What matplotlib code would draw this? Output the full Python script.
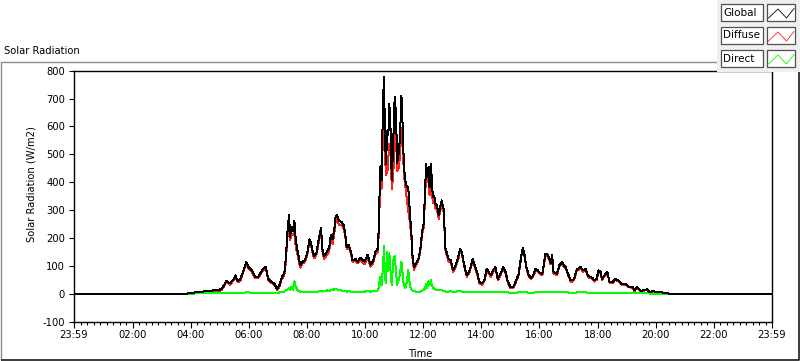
import matplotlib
matplotlib.use("Agg")
import matplotlib.pyplot as plt
from matplotlib.patches import Rectangle
from matplotlib.ticker import FixedLocator

# ---------------- data (minutes since 00:00, W/m2) ----------------
time_min = [-1, 230, 237, 245, 255, 265, 275, 285, 295, 300, 304, 314, 321, 328, 332, 337, 342, 349,
            355, 359, 366, 373, 380, 387, 390, 395, 400, 407, 412, 418, 423, 428, 433, 436, 440, 443,
            445, 448, 451, 454, 457, 461, 466, 471, 475, 480, 485, 488, 492, 495, 500, 504, 509, 512,
            515, 521, 526, 529, 533, 537, 539, 542, 546, 551, 556, 559, 562, 566, 571, 574, 580, 585,
            590, 595, 599, 605, 611, 616, 621, 626, 628, 631, 632, 634, 637, 639, 641, 643, 646, 648,
            650, 653, 655, 658, 661, 664, 666, 669, 672, 675, 678, 680, 683, 686, 689, 693, 696, 698,
            701, 705, 710, 714, 718, 721, 723, 726, 728, 731, 733, 736, 738, 740, 743, 745, 748, 752,
            755, 758, 762, 766, 772, 777, 782, 788, 793, 796, 800, 804, 810, 816, 822, 827, 832, 836,
            841, 846, 851, 855, 860, 864, 869, 874, 879, 885, 890, 894, 900, 906, 912, 917, 920, 924,
            926, 929, 933, 938, 943, 947, 952, 956, 961, 966, 968, 972, 976, 980, 983, 986, 989, 996,
            1001, 1007, 1010, 1014, 1019, 1024, 1029, 1032, 1037, 1045, 1050, 1055, 1060, 1064, 1069,
            1073, 1078, 1082, 1086, 1089, 1094, 1100, 1105, 1111, 1117, 1123, 1130, 1137, 1144, 1153,
            1156, 1162, 1169, 1176, 1182, 1187, 1194, 1203, 1213, 1224, 1230, 1439]

global_wm2 = [0, 0, 3, 4, 6, 8, 10, 12, 13, 15, 18, 46, 37, 51, 66, 46, 50, 84,
              114, 96, 84, 60, 62, 84, 90, 96, 54, 42, 38, 18, 30, 60, 72, 120, 228, 284,
              204, 240, 225, 263, 190, 150, 102, 115, 120, 140, 195, 185, 150, 135, 150, 192, 235, 160,
              135, 150, 165, 210, 195, 240, 275, 284, 262, 258, 245, 215, 168, 175, 150, 120, 125, 115,
              130, 120, 115, 140, 105, 115, 150, 162, 228, 443, 460, 407, 694, 777, 562, 467, 586, 570,
              682, 570, 407, 540, 705, 640, 470, 500, 560, 710, 580, 460, 407, 383, 383, 275, 204, 132,
              96, 110, 126, 160, 228, 252, 335, 467, 420, 455, 383, 467, 395, 347, 350, 323, 318, 281,
              310, 335, 305, 162, 126, 120, 84, 108, 138, 162, 150, 108, 66, 85, 126, 100, 72, 42,
              38, 48, 90, 78, 66, 84, 96, 54, 70, 96, 78, 48, 24, 25, 48, 72, 108, 156,
              165, 140, 96, 66, 58, 66, 90, 85, 75, 72, 96, 144, 144, 128, 110, 140, 78, 72,
              102, 114, 102, 96, 72, 48, 48, 58, 87, 96, 84, 90, 66, 60, 58,
              48, 54, 84, 78, 54, 66, 78, 42, 42, 54, 48, 34, 36, 26, 24,
              12, 24, 10, 14, 16, 6, 10, 6, 5, 2, 0, 0]

diffuse_wm2 = [0, 0, 3, 3, 4, 5, 7, 8, 9, 11, 14, 42, 33, 47, 62, 42, 46, 80,
               109, 91, 80, 56, 58, 80, 86, 92, 50, 38, 35, 15, 25, 54, 64, 108, 213, 264,
               192, 215, 210, 218, 165, 138, 94, 109, 114, 133, 187, 178, 144, 127, 143, 184, 225, 152,
               126, 138, 155, 196, 179, 225, 257, 268, 248, 246, 235, 205, 160, 166, 142, 114, 118, 109,
               122, 114, 107, 130, 97, 106, 140, 150, 208, 383, 415, 377, 594, 605, 502, 427, 436, 490,
               537, 500, 377, 420, 570, 560, 440, 450, 490, 595, 520, 430, 387, 343, 298, 250, 189, 120,
               86, 102, 120, 152, 216, 238, 317, 432, 400, 410, 353, 419, 365, 325, 332, 308, 304, 269,
               298, 321, 295, 154, 118, 111, 77, 100, 129, 152, 142, 102, 60, 79, 119, 94, 66, 37,
               33, 43, 84, 73, 61, 79, 90, 49, 65, 91, 73, 43, 20, 21, 44, 67, 103, 151,
               160, 135, 91, 62, 54, 62, 85, 80, 70, 66, 89, 136, 137, 122, 105, 135, 73, 67,
               97, 109, 97, 91, 67, 44, 44, 54, 82, 91, 79, 85, 62, 56, 54,
               44, 50, 80, 74, 50, 62, 75, 39, 39, 51, 45, 31, 33, 23, 22,
               10, 22, 8, 12, 14, 5, 9, 5, 4, 2, 0, 0]

direct_wm2 = [0, 0, 0, 1, 2, 3, 3, 4, 4, 4, 4, 4, 4, 4, 4, 4, 4, 4,
              5, 5, 4, 4, 4, 4, 4, 4, 4, 4, 3, 3, 5, 6, 8, 12, 15, 20,
              12, 25, 15, 45, 25, 12, 8, 6, 6, 7, 8, 7, 6, 8, 7, 8, 10, 8,
              9, 12, 10, 14, 16, 15, 18, 16, 14, 12, 10, 10, 8, 9, 8, 6, 7, 6,
              8, 6, 8, 10, 8, 9, 10, 12, 20, 60, 45, 30, 100, 172, 60, 40, 150, 80,
              145, 70, 30, 120, 135, 80, 30, 50, 70, 115, 60, 30, 20, 40, 85, 25, 15, 12,
              10, 8, 6, 8, 12, 14, 18, 35, 20, 45, 30, 48, 30, 22, 18, 15, 14, 12,
              12, 14, 10, 8, 8, 9, 7, 8, 9, 10, 8, 6, 6, 6, 7, 6, 6, 5,
              5, 5, 6, 5, 5, 5, 6, 5, 5, 5, 5, 5, 4, 4, 4, 5, 5, 5,
              5, 5, 5, 4, 4, 4, 5, 5, 5, 6, 7, 8, 7, 6, 5, 5, 5, 5,
              5, 5, 5, 5, 5, 4, 4, 4, 5, 5, 5, 5, 4, 4, 4,
              4, 4, 4, 4, 4, 4, 3, 3, 3, 3, 3, 3, 3, 3, 2,
              2, 2, 2, 2, 2, 1, 1, 1, 1, 0, 0, 0]

series_names = ["Global", "Diffuse", "Direct"]
series_colors = ["#000000", "#ff2020", "#00ff00"]

xtick_pos = [-1, 120, 240, 360, 480, 600, 720, 840, 960, 1080, 1200, 1320, 1439]
xtick_labels = ["23:59", "02:00", "04:00", "06:00", "08:00", "10:00", "12:00",
                "14:00", "16:00", "18:00", "20:00", "22:00", "23:59"]
ytick_pos = [-100, 0, 100, 200, 300, 400, 500, 600, 700, 800]

# ---------------- layout ----------------
W, H = 800, 361
fig = plt.figure(figsize=(W / 100, H / 100), dpi=100)
fig.patch.set_facecolor("white")
FONT = "DejaVu Sans"
FS = 7.2


def fx(px):
    return px / W


def fy(py):
    return 1 - py / H


# background overlay for the panel frame
bg = fig.add_axes([0, 0, 1, 1], zorder=0)
bg.set_xlim(0, W)
bg.set_ylim(H, 0)
bg.axis("off")
bg.plot([0.5, 0.5, 717], [360, 61.5, 61.5], color="#8c8c8c", lw=1.0, solid_capstyle="butt")
bg.plot([0.5, 798.5, 798.5], [359.5, 359.5, 72], color="#1a1a1a", lw=1.2, solid_capstyle="butt")

ax = fig.add_axes([fx(74), fy(321.7), fx(771.5) - fx(74), fy(70.7) - fy(321.7)], zorder=2)
ax.set_facecolor("white")

ax.plot(time_min, diffuse_wm2, color=series_colors[1], lw=0.72, antialiased=False, zorder=2)
ax.plot(time_min, direct_wm2, color=series_colors[2], lw=0.72, antialiased=False, zorder=3)
ax.plot(time_min, global_wm2, color=series_colors[0], lw=0.72, antialiased=False, zorder=4)

ax.set_xlim(-1, 1439)
ax.set_ylim(-100, 800)
ax.set_xticks(xtick_pos)
ax.set_xticklabels(xtick_labels, fontsize=FS, family=FONT)
minor = []
for k in range(12):
    for j in range(1, 9):
        minor.append(k * 120 + j * 120 / 9)
minor.append(0)
ax.xaxis.set_minor_locator(FixedLocator(minor))
ax.set_yticks(ytick_pos)
ax.set_yticklabels([str(v) for v in ytick_pos], fontsize=FS, family=FONT)
ax.tick_params(axis="x", which="major", length=4.5, width=0.8, pad=1.5, direction="out")
ax.tick_params(axis="x", which="minor", length=2.5, width=0.8, direction="out")
ax.tick_params(axis="y", which="major", length=3.6, width=0.8, pad=3.0, direction="out")
for s in ax.spines.values():
    s.set_linewidth(1.0)
    s.set_color("black")

fig.text(fx(4), fy(51), "Solar Radiation", fontsize=FS, family=FONT, ha="left", va="center")
fig.text(fx(31), fy(184), "Solar Radiation (W/m2)", fontsize=FS, family=FONT,
         rotation=90, ha="center", va="center")
fig.text(fx(420), fy(354), "Time", fontsize=FS, family=FONT, ha="center", va="center")

# ---------------- legend (foreground) ----------------
fg = fig.add_axes([0, 0, 1, 1], zorder=10)
fg.set_xlim(0, W)
fg.set_ylim(H, 0)
fg.axis("off")
fg.patch.set_alpha(0)
fg.add_patch(Rectangle((717, 0), 83, 72, facecolor="#f0f0f0", edgecolor="none"))
row_top = [4, 27, 50]
for name, col, top in zip(series_names, series_colors, row_top):
    fg.add_patch(Rectangle((721, top), 42, 16.5, facecolor="white", edgecolor="#505050", lw=0.9))
    fg.add_patch(Rectangle((766.5, top), 28.5, 16.5, facecolor="white", edgecolor="#505050", lw=0.9))
    fg.text(723, top + 8.5, name, fontsize=FS + 0.3, family=FONT, ha="left", va="center")
    fg.plot([768.5, 778, 786.5, 794], [top + 14, top + 5, top + 14, top + 4.5],
            color=col, lw=0.6, antialiased=True)

fig.savefig("out.png", dpi=100, facecolor="white")
